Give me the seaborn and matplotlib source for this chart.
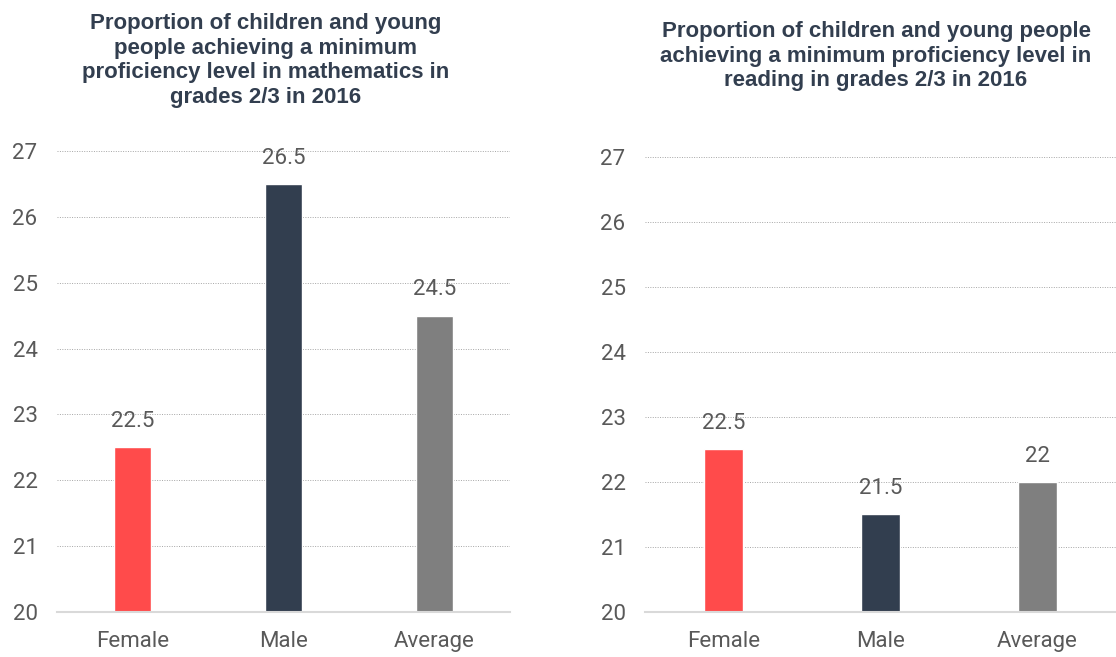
import numpy as np
import pandas as pd
import matplotlib
matplotlib.use("Agg")
import matplotlib.pyplot as plt
import seaborn as sns

# datos
categorias = ["Female", "Male", "Average"]
matematicas = [22.5, 26.5, 24.5]
lectura = [22.5, 21.5, 22]
colores = ["#FF4B4B", "#323E4F", "#7F7F7F"]
titulo_mat = "Proportion of children and young\npeople achieving a minimum\nproficiency level in mathematics in\ngrades 2/3 in 2016"
titulo_lec = "Proportion of children and young people\nachieving a minimum proficiency level in\nreading in grades 2/3 in 2016"
yticks = [20, 21, 22, 23, 24, 25, 26, 27]

sns.set_theme(style="white")
plt.rcParams['font.family'] = ['Roboto', 'DejaVu Sans']

fig = plt.figure(figsize=(11.16, 6.57), dpi=100)
ax1 = fig.add_axes([57/1116, 1-612/657, 453/1116, (612-151)/657])
ax2 = fig.add_axes([645/1116, 1-612/657, 471/1116, (612-157)/657])

texto = "#595959"

def dibujar(ax, valores):
    df = pd.DataFrame({'cat': categorias, 'val': valores})
    sns.barplot(data=df, x='cat', y='val', hue='cat', palette=colores,
                width=0.25, legend=False, ax=ax, saturation=1)
    ax.set_ylim(20, 27)
    ax.set_yticks(yticks)
    ax.set_xlabel("")
    ax.set_ylabel("")
    # lineas punteadas de la grilla
    for y in yticks[1:]:
        ax.axhline(y, color="#A6A6A6", linestyle=(0, (1, 1.5)), linewidth=0.7, zorder=0)
    for s in ['top', 'right', 'left']:
        ax.spines[s].set_visible(False)
    ax.spines['bottom'].set_color("#D9D9D9")
    ax.spines['bottom'].set_linewidth(1.5)
    ax.tick_params(axis='y', length=0, pad=14, labelsize=16, labelcolor=texto)
    ax.tick_params(axis='x', length=0, pad=14, labelsize=16, labelcolor=texto)
    for c in ax.containers:
        etiquetas = [f"{v:g}" for v in c.datavalues]
        ax.bar_label(c, labels=etiquetas, padding=11, fontsize=16, color=texto)

dibujar(ax1, matematicas)
dibujar(ax2, lectura)

fig.text(266/1116, 1-13/657, titulo_mat, ha='center', va='top', fontsize=16,
         fontweight='bold', color="#323E4F", family=['Liberation Sans', 'DejaVu Sans'],
         linespacing=1.22)
fig.text(876/1116, 1-21/657, titulo_lec, ha='center', va='top', fontsize=16,
         fontweight='bold', color="#323E4F", family=['Liberation Sans', 'DejaVu Sans'],
         linespacing=1.22)

fig.savefig("out.png", dpi=100)
